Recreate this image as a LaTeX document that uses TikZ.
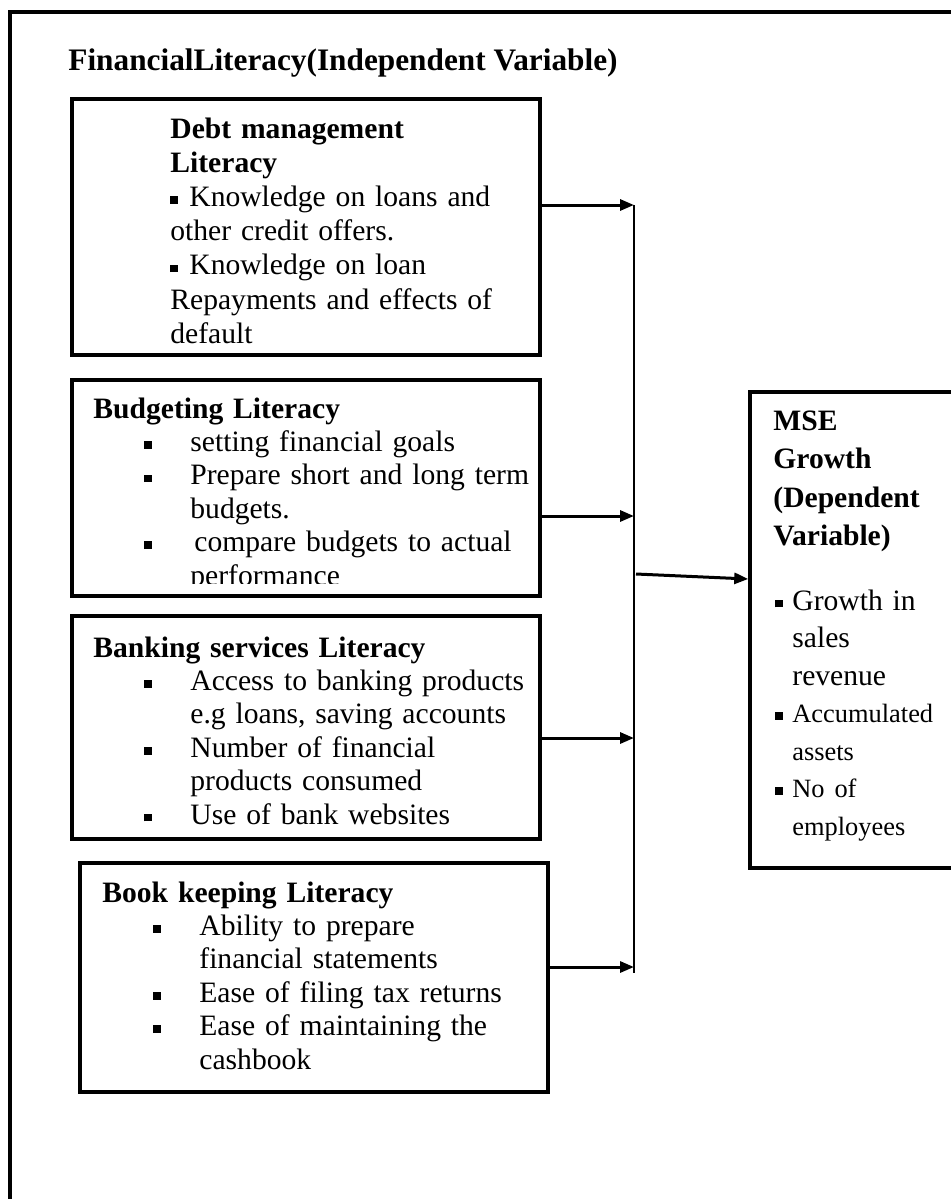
\documentclass[tikz,border=0pt]{standalone}
\usepackage{fontspec}
\setmainfont{Liberation Serif}
\usepackage{tikz}
\usetikzlibrary{arrows.meta}
\newcommand{\sqbul}{\rule[1.3pt]{3.8pt}{3.8pt}}
\newcommand{\itm}[1]{\makebox[48.5pt][l]{\hspace{25.5pt}\sqbul}#1}
\newcommand{\cnt}[1]{\hspace*{48.5pt}#1}
\newcommand{\msecnt}[1]{\hspace*{8.5pt}#1}

\begin{document}
\begin{tikzpicture}[x=0.5pt, y=-0.5pt,
    fbox/.style={draw, line width=1.75pt, minimum width=234pt, inner sep=0pt},
    txt/.style={anchor=base west, inner sep=0pt, text width=260pt, align=left,
      font=\fontsize{14.8pt}{16.7pt}\selectfont},
    arr/.style={line width=1.5pt, -{Triangle[length=7pt,width=5.5pt]}}]
  \useasboundingbox (0,0) rectangle (950,1199);
  \fill[white] (0,0) rectangle (950,1199);
  \draw[line width=2pt] (10,12) rectangle (990,1240);

  \node[anchor=base west, inner sep=0pt, font=\bfseries\fontsize{15.65pt}{18pt}\selectfont] (title) at (68,70)
    {FinancialLiteracy(Independent Variable)};

  \node[fbox, minimum height=128pt] (debt) at (306,227) {};
  \node[fbox, minimum height=108pt] (budget) at (306,488) {};
  \node[fbox, minimum height=111.5pt] (banking) at (306,727.5) {};
  \node[fbox, minimum height=114.5pt] (bookkeeping) at (314,977.5) {};
  \node[fbox, minimum width=120pt, minimum height=238pt] (mse) at (870,630) {};

  \node[txt, font=\fontsize{14.8pt}{17.1pt}\selectfont] (debtTxt) at (170,138)
    {\textbf{Debt management}\\ \textbf{Literacy}\\
     \sqbul\hspace{5.7pt}Knowledge on loans and\\ other credit offers.\\
     \sqbul\hspace{5.7pt}Knowledge on loan\\ Repayments and effects of\\ default};
  \begin{scope}
    \clip (72,380) rectangle (540,583);
    \node[txt] (budgetTxt) at (93,418)
      {\textbf{Budgeting Literacy}\\ \itm{setting financial goals}\\
       \itm{Prepare short and long term}\\ \cnt{budgets.}\\
       \itm{\hspace{2pt}compare budgets to actual}\\ \cnt{performance}};
  \end{scope}
  \node[txt] (bankingTxt) at (93,657)
    {\textbf{Banking services Literacy}\\ \itm{Access to banking products}\\
     \cnt{e.g loans, saving accounts}\\ \itm{Number of financial}\\
     \cnt{products consumed}\\ \itm{Use of bank websites}};
  \node[txt] (bookTxt) at (102,902)
    {\textbf{Book keeping Literacy}\\ \itm{Ability to prepare}\\
     \cnt{financial statements}\\ \itm{Ease of filing tax returns}\\
     \itm{Ease of maintaining the}\\ \cnt{cashbook}};
  \node[txt, text width=110pt, font=\bfseries\fontsize{14.8pt}{19.3pt}\selectfont] (mseHead) at (773,430)
    {MSE\\ Growth\\ (Dependent\\ Variable)};
  \node[txt, text width=110pt, font=\fontsize{14.8pt}{18.75pt}\selectfont] (mseTxt) at (775,610)
    {\sqbul\hspace{4.7pt}Growth in\\ \msecnt{sales}\\ \msecnt{revenue}\\
     \sqbul\hspace{4.7pt}{\fontsize{13.2pt}{18.75pt}\selectfont Accumulated}\\
     \msecnt{\fontsize{13.2pt}{18.75pt}\selectfont assets}\\
     \sqbul\hspace{4.7pt}No of\\ \msecnt{employees}};

  \coordinate (busA) at (634,205);
  \coordinate (busB) at (634,516);
  \coordinate (busC) at (634,738);
  \coordinate (busD) at (634,967);
  \coordinate (busEnd) at (634,973);
  \coordinate (busOut) at (636,574);
  \coordinate (mseIn) at (750,579);
  \draw[line width=0.8pt] (busA) -- (busEnd);
  \draw[arr] (debt.east |- busA) -- (busA);
  \draw[arr] (budget.east |- busB) -- (busB);
  \draw[arr] (banking.east |- busC) -- (busC);
  \draw[arr] (bookkeeping.east |- busD) -- (busD);
  \draw[arr] (busOut) -- (mse.west |- mseIn);
\end{tikzpicture}
\end{document}
